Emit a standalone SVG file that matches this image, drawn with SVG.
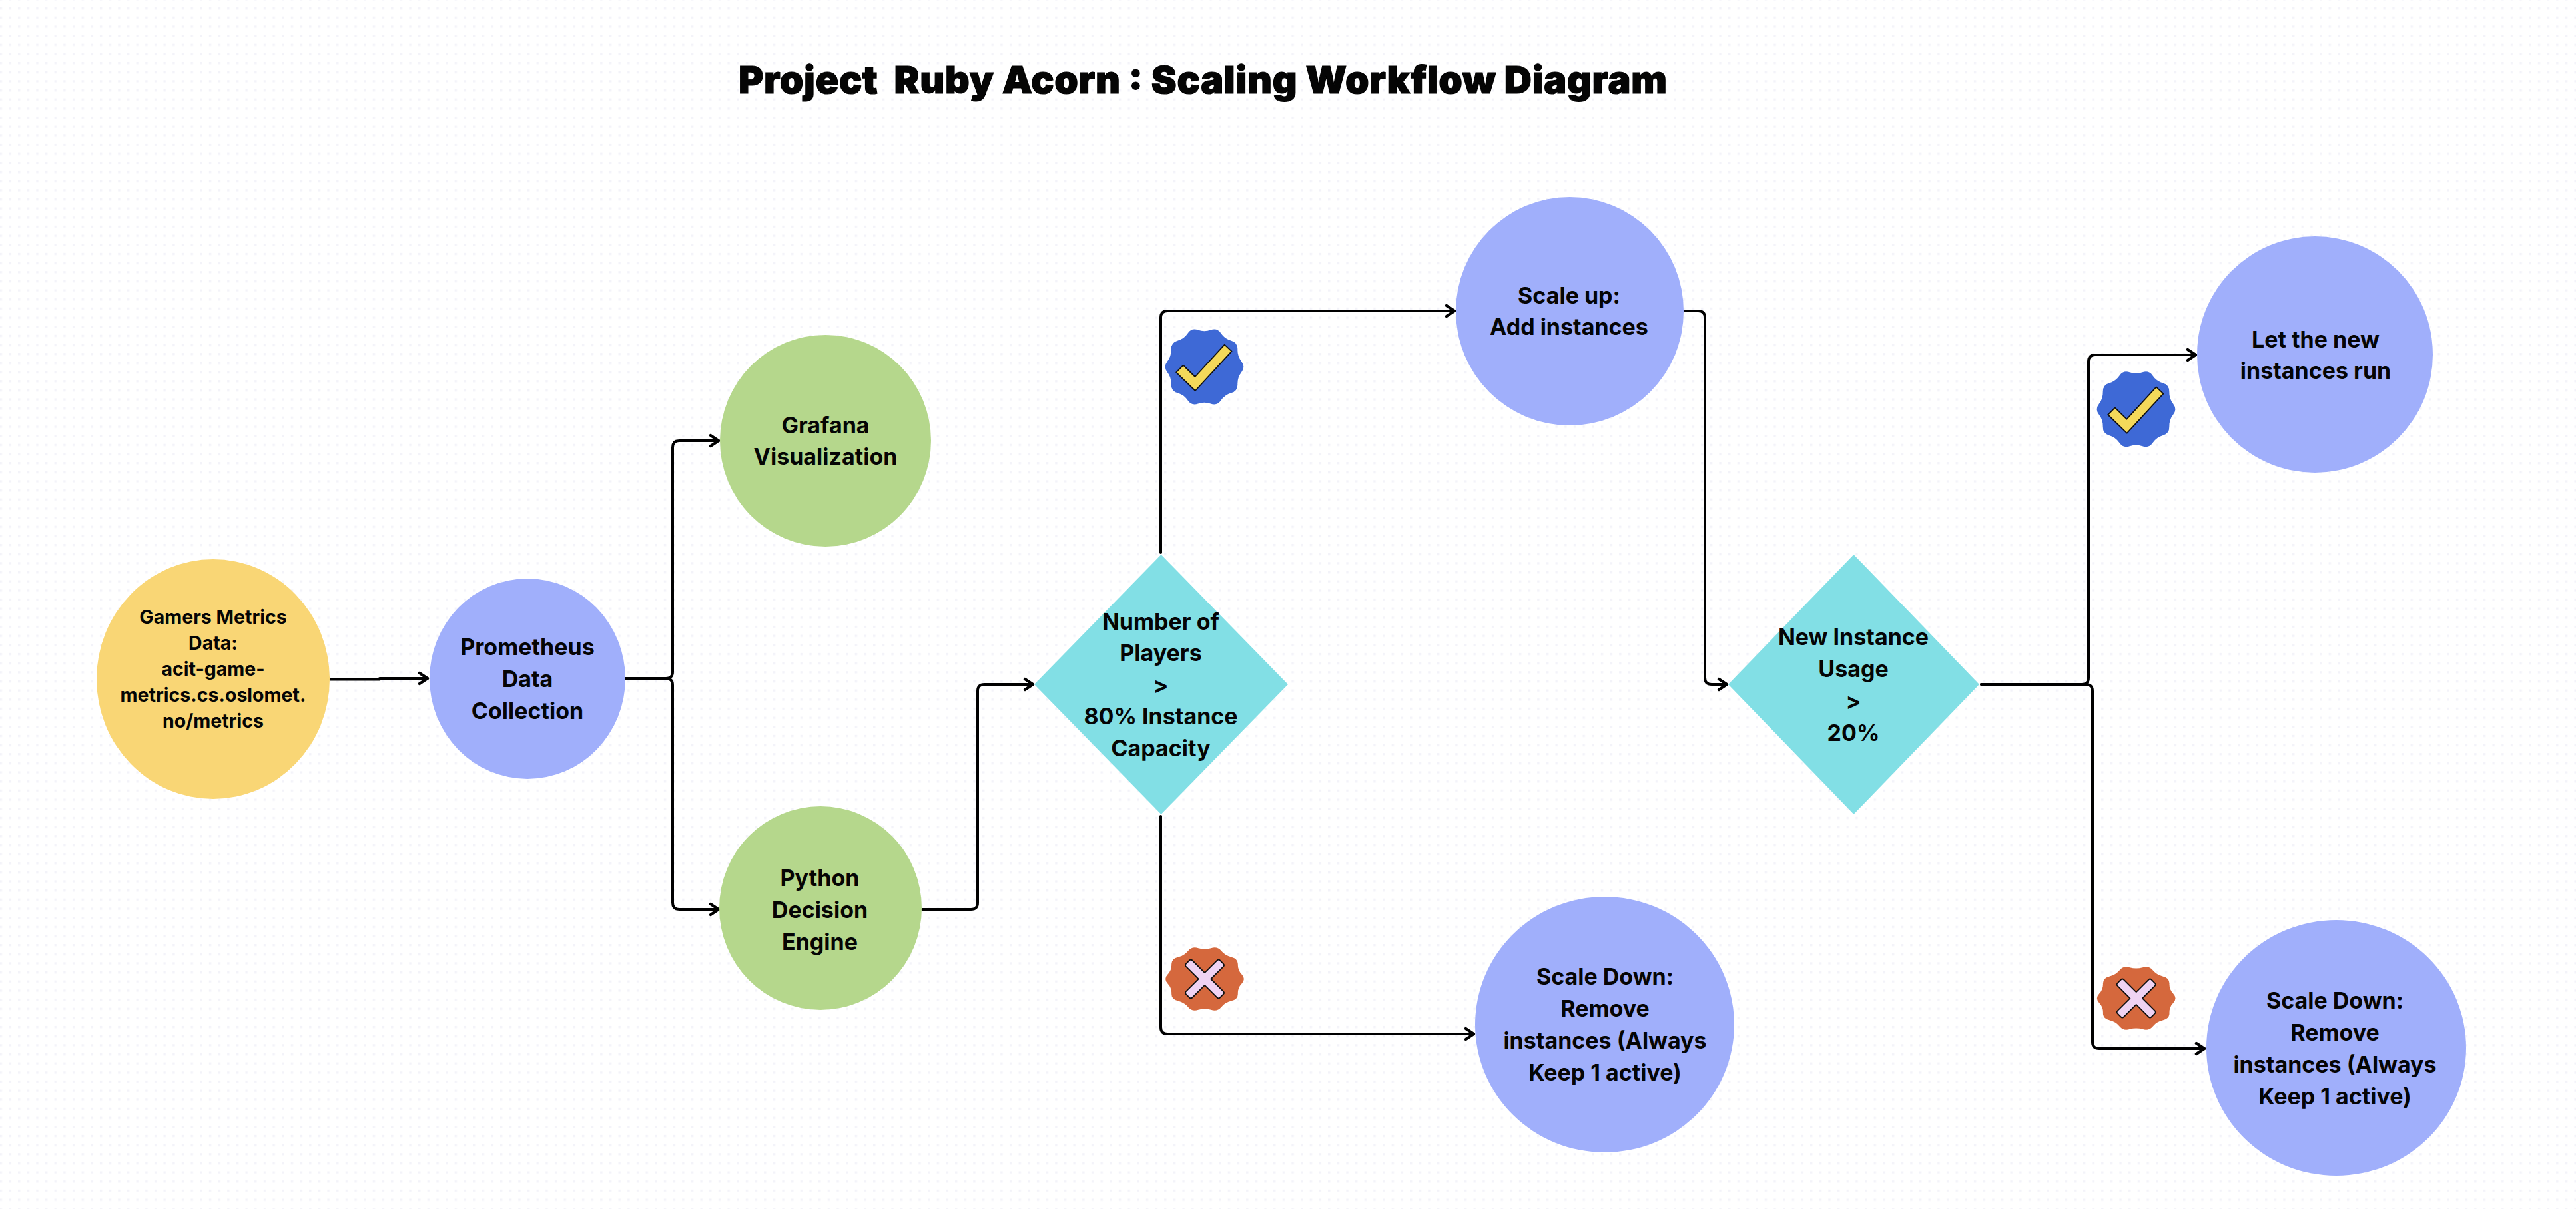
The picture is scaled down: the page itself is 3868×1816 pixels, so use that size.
<svg xmlns="http://www.w3.org/2000/svg" width="3868" height="1816" viewBox="0 0 3868 1816">
<style>
text{font-family:"Inter","Liberation Sans",sans-serif;font-weight:700;fill:#050505;text-anchor:middle;font-size:34px}
.s{font-size:28.5px}
.t{font-weight:900;font-size:57px;white-space:pre;stroke:#000;stroke-width:1.2}
.c{fill:none;stroke:#000;stroke-width:4;stroke-linecap:round;stroke-linejoin:round}
.a{marker-end:url(#arr)}
.y{fill:#F9D675}.p{fill:#A0AFFB}.g{fill:#B5D78C}.d{fill:#82DFE5}
.k{fill:#F4D95A;stroke:#111;stroke-width:1.8;stroke-linejoin:round}
.x{fill:#EFD3F3;stroke:#111;stroke-width:1.8;stroke-linejoin:round}
.h{stroke:#fff;stroke-width:4}
</style>
<defs>
<pattern id="dots" patternUnits="userSpaceOnUse" x="-0.35" y="-2.66" width="13.66" height="13.66"><rect width="3.4" height="3.4" fill="#F3F3F9"/></pattern>
<marker id="arr" markerUnits="userSpaceOnUse" markerWidth="30" markerHeight="30" refX="20" refY="15" orient="auto"><path d="M8 7 L20 15 L8 23" fill="none" stroke="#000" stroke-width="4.5" stroke-linecap="round" stroke-linejoin="round"/></marker>
<path id="seal" d="M55.73 -8.04Q62 0 55.73 8.04Q49.46 16.07 49.81 26.26Q50.16 36.44 40.37 39.26Q30.57 42.07 24.87 50.52Q19.16 58.97 9.58 55.49Q0 52 -9.58 55.49Q-19.16 58.97 -24.87 50.52Q-30.57 42.07 -40.37 39.26Q-50.16 36.44 -49.81 26.26Q-49.46 16.07 -55.73 8.04Q-62 0 -55.73 -8.04Q-49.46 -16.07 -49.81 -26.26Q-50.16 -36.44 -40.37 -39.26Q-30.57 -42.07 -24.87 -50.52Q-19.16 -58.97 -9.58 -55.49Q0 -52 9.58 -55.49Q19.16 -58.97 24.87 -50.52Q30.57 -42.07 40.37 -39.26Q50.16 -36.44 49.81 -26.26Q49.46 -16.07 55.73 -8.04Z"/>
<path id="check" d="M-42.3 8.3L-31.7 -2.3L-14 15L30.3 -33.3L41 -23.3L-13.7 36Z"/>
<path id="cross" transform="rotate(45)" d="M-6.6 -6.6V-33Q-6.6 -36 -3.6 -36H3.6Q6.6 -36 6.6 -33V-6.6H33Q36 -6.6 36 -3.6V3.6Q36 6.6 33 6.6H6.6V33Q6.6 36 3.6 36H-3.6Q-6.6 36 -6.6 33V6.6H-33Q-36 6.6 -36 3.6V-3.6Q-36 -6.6 -33 -6.6Z"/>
</defs>
<rect width="3868" height="1816" fill="#fff"/>
<rect width="3868" height="1816" fill="url(#dots)"/>
<text id="title" class="t" x="1806" y="140" textLength="1394" lengthAdjust="spacing">Project  Ruby Acorn : Scaling Workflow Diagram</text>
<g id="connectors">
<path class="c a" d="M496 1020.5H570V1019H642"/>
<path class="c a" d="M939 1019H1000Q1010 1019 1010 1009V672Q1010 662 1020 662H1079"/>
<path class="c a" d="M939 1019H1000Q1010 1019 1010 1029V1356Q1010 1366 1020 1366H1079"/>
<path class="c a" d="M1385 1366H1458Q1468 1366 1468 1356V1038Q1468 1028 1478 1028H1551"/>
<path class="c a" d="M1743 830V477Q1743 467 1753 467H2184"/>
<path class="c a" d="M1743 1226V1543Q1743 1553 1753 1553H2213"/>
<path class="c a" d="M2529 467H2550Q2560 467 2560 477V1018Q2560 1028 2570 1028H2593"/>
<path class="c a" d="M2975 1028H3126Q3136 1028 3136 1018V543Q3136 533 3146 533H3297"/>
<path class="c a" d="M2975 1028H3132Q3142 1028 3142 1038V1565Q3142 1575 3152 1575H3310"/>
</g>
<g id="n-gamers"><ellipse class="y" cx="320" cy="1020" rx="175" ry="180"/>
<text class="s" x="320" y="937">Gamers Metrics</text><text class="s" x="320" y="976">Data:</text><text class="s" x="320" y="1015">acit-game-</text><text class="s" x="320" y="1054">metrics.cs.oslomet.</text><text class="s" x="320" y="1093">no/metrics</text></g>
<g id="n-prometheus"><ellipse class="p" cx="792" cy="1019.5" rx="147" ry="150.5"/>
<text x="792" y="984">Prometheus</text><text x="792" y="1032">Data</text><text x="792" y="1080">Collection</text></g>
<g id="n-grafana"><ellipse class="g" cx="1239.5" cy="662" rx="158.5" ry="159"/>
<text x="1239.5" y="651">Grafana</text><text x="1239.5" y="698">Visualization</text></g>
<g id="n-python"><ellipse class="g" cx="1232" cy="1364" rx="152" ry="153"/>
<text x="1231" y="1331">Python</text><text x="1231" y="1379">Decision</text><text x="1231" y="1427">Engine</text></g>
<g id="n-decision1"><polygon class="d" points="1743.5,833 1934,1028 1743.5,1223 1553,1028"/>
<text x="1743" y="946">Number of</text><text x="1743" y="993">Players</text><text x="1743" y="1041">&gt;</text><text x="1743" y="1088">80% Instance</text><text x="1743" y="1136">Capacity</text></g>
<g id="n-scaleup"><ellipse class="p" cx="2357" cy="467.5" rx="171" ry="171.5"/>
<text x="2356" y="456">Scale up:</text><text x="2356" y="503">Add instances</text></g>
<g id="n-scaledown1"><ellipse class="p" cx="2409.5" cy="1539" rx="194.5" ry="192"/>
<text x="2410" y="1479">Scale Down:</text><text x="2410" y="1527">Remove</text><text x="2410" y="1575">instances (Always</text><text x="2410" y="1623">Keep 1 active)</text></g>
<g id="n-decision2"><polygon class="d" points="2783.5,833 2972,1028 2783.5,1223 2595,1028"/>
<text x="2783" y="969">New Instance</text><text x="2783" y="1017">Usage</text><text x="2783" y="1065">&gt;</text><text x="2783" y="1113">20%</text></g>
<g id="n-letrun"><ellipse class="p" cx="3476" cy="532.5" rx="177" ry="177.5"/>
<text x="3477" y="522">Let the new</text><text x="3477" y="569">instances run</text></g>
<g id="n-scaledown2"><ellipse class="p" cx="3508" cy="1574" rx="195" ry="192"/>
<text x="3506" y="1515">Scale Down:</text><text x="3506" y="1563">Remove</text><text x="3506" y="1611">instances (Always</text><text x="3506" y="1659">Keep 1 active)</text></g>
<g id="badge-yes1" transform="translate(1808.5 551)"><use href="#seal" fill="#3E69D6" class="h"/><use href="#seal" fill="#3E69D6"/><use href="#check" class="k"/></g>
<g id="badge-yes2" transform="translate(3207.5 614.7)"><use href="#seal" fill="#3E69D6" class="h"/><use href="#seal" fill="#3E69D6"/><use href="#check" class="k"/></g>
<g id="badge-no1" transform="translate(1809 1470.5)"><g transform="scale(1 .835)"><use href="#seal" fill="#D5683D" class="h"/><use href="#seal" fill="#D5683D"/></g><use href="#cross" class="x"/></g>
<g id="badge-no2" transform="translate(3207.7 1499.5)"><g transform="scale(1 .835)"><use href="#seal" fill="#D5683D" class="h"/><use href="#seal" fill="#D5683D"/></g><use href="#cross" class="x"/></g>
</svg>
